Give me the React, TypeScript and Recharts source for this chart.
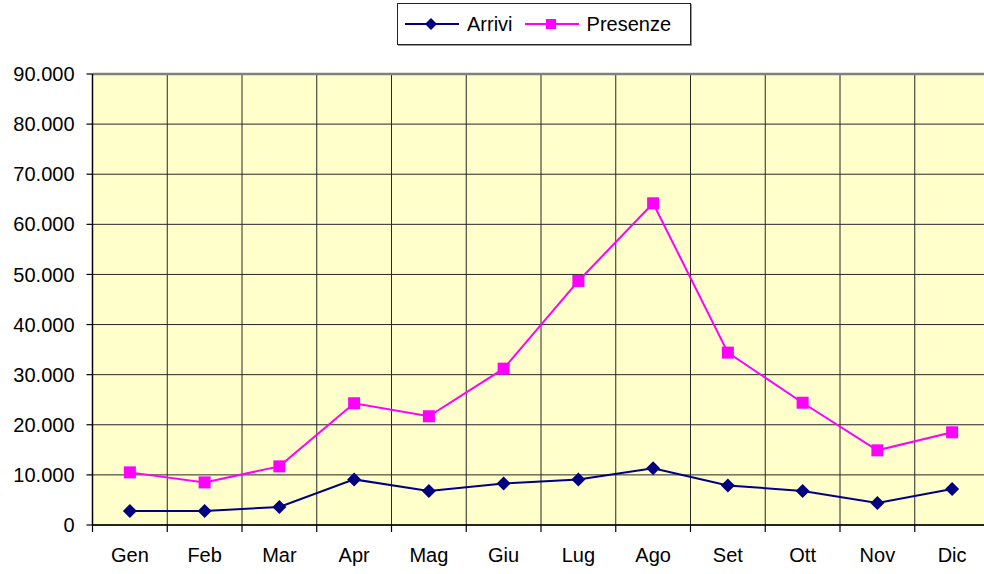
import React from 'react'
import { CartesianGrid, Line, LineChart, ReferenceLine, XAxis, YAxis } from 'recharts'

const months = ['Gen', 'Feb', 'Mar', 'Apr', 'Mag', 'Giu', 'Lug', 'Ago', 'Set', 'Ott', 'Nov', 'Dic']
const arrivi = [2800, 2800, 3600, 9100, 6800, 8300, 9100, 11300, 7900, 6800, 4400, 7200]
const presenze = [10500, 8500, 11700, 24300, 21700, 31200, 48700, 64200, 34400, 24400, 14900, 18500]
const yTicks = [0, 10000, 20000, 30000, 40000, 50000, 60000, 70000, 80000, 90000]

const ARRIVI_COLOR = '#000080'
const PRESENZE_COLOR = '#FF00FF'
const FONT = '"Liberation Sans", Arial, sans-serif'

const data = months.map((m, i) => ({ x: i + 0.5, month: m, arrivi: arrivi[i], presenze: presenze[i] }))
const centers = months.map((_, i) => i + 0.5)
const bounds = [...months.map((_, i) => i), months.length]

const fmt = (v: number) => String(v).replace(/\B(?=(\d{3})+(?!\d))/g, '.')

function Diamond({ cx, cy, fill, size = 7 }: any) {
  if (cx == null || cy == null) return null
  return (
    <polygon
      points={`${cx},${cy - size} ${cx + size},${cy} ${cx},${cy + size} ${cx - size},${cy}`}
      fill={fill}
    />
  )
}

function Square({ cx, cy, fill, size = 6 }: any) {
  if (cx == null || cy == null) return null
  return <rect x={cx - size} y={cy - size} width={size * 2} height={size * 2} fill={fill} />
}

// tick mark between categories, drawn down from the axis line
function BoundTick({ x, y }: any) {
  return <line x1={x} x2={x} y1={y} y2={y + 7} stroke="#000" strokeWidth={1.2} />
}

function LegendBox() {
  const item = (label: string, color: string, marker: 'diamond' | 'square') => (
    <div style={{ display: 'flex', alignItems: 'center', marginRight: 12 }}>
      <svg width={54} height={20} style={{ marginRight: 8 }}>
        <line x1={0} y1={10} x2={54} y2={10} stroke={color} strokeWidth={2} />
        {marker === 'diamond' ? (
          <Diamond cx={26} cy={10} fill={color} size={6} />
        ) : (
          <Square cx={26} cy={10} fill={color} size={5} />
        )}
      </svg>
      <span>{label}</span>
    </div>
  )
  return (
    <div
      style={{
        position: 'absolute',
        left: 397,
        top: 3,
        width: 294,
        height: 42,
        boxSizing: 'border-box',
        border: '1px solid #222',
        boxShadow: '1px 1px 0 #999',
        background: '#fff',
        display: 'flex',
        alignItems: 'center',
        paddingLeft: 7,
        fontFamily: FONT,
        fontSize: 20,
        color: '#000',
      }}
    >
      {item('Arrivi', ARRIVI_COLOR, 'diamond')}
      {item('Presenze', PRESENZE_COLOR, 'square')}
    </div>
  )
}

export default function App() {
  return (
    <div
      style={{
        position: 'fixed',
        left: 0,
        top: 0,
        width: 984,
        height: 574,
        overflow: 'hidden',
        background: '#fff',
      }}
    >
      <LineChart
        width={1000}
        height={574}
        data={data}
        margin={{ top: 74, right: 10.5, bottom: 0, left: 0 }}
        style={{ fontFamily: FONT }}
      >
        <CartesianGrid xAxisId="g" fill="#FFFFCC" stroke="#262626" />
        <XAxis
          xAxisId="g"
          type="number"
          dataKey="x"
          domain={[0, 12]}
          ticks={bounds}
          interval={0}
          tickLine={false}
          tickSize={0}
          tickMargin={0}
          tick={<BoundTick />}
          height={1}
          axisLine={{ stroke: '#000', strokeWidth: 1.5 }}
        />
        <XAxis
          xAxisId="m"
          type="number"
          dataKey="x"
          domain={[0, 12]}
          ticks={centers}
          interval={0}
          tickFormatter={(v: number) => months[Math.round(v - 0.5)]}
          tickLine={false}
          axisLine={false}
          tickSize={6}
          tickMargin={16}
          height={48}
          tick={{ fill: '#000', fontSize: 20 }}
        />
        <YAxis
          type="number"
          domain={[0, 90000]}
          ticks={yTicks}
          interval={0}
          width={92.5}
          tickFormatter={fmt}
          tickSize={6}
          tickMargin={12}
          axisLine={{ stroke: '#000', strokeWidth: 1.5 }}
          tickLine={{ stroke: '#000', strokeWidth: 1.2 }}
          tick={{ fill: '#000', fontSize: 20 }}
        />
        <ReferenceLine xAxisId="g" y={90000} stroke="#808080" strokeWidth={2.5} />
        <Line
          xAxisId="m"
          dataKey="arrivi"
          name="Arrivi"
          stroke={ARRIVI_COLOR}
          strokeWidth={2}
          dot={<Diamond fill={ARRIVI_COLOR} />}
          activeDot={false}
          isAnimationActive={false}
        />
        <Line
          xAxisId="m"
          dataKey="presenze"
          name="Presenze"
          stroke={PRESENZE_COLOR}
          strokeWidth={2}
          dot={<Square fill={PRESENZE_COLOR} />}
          activeDot={false}
          isAnimationActive={false}
        />
      </LineChart>
      <LegendBox />
    </div>
  )
}
